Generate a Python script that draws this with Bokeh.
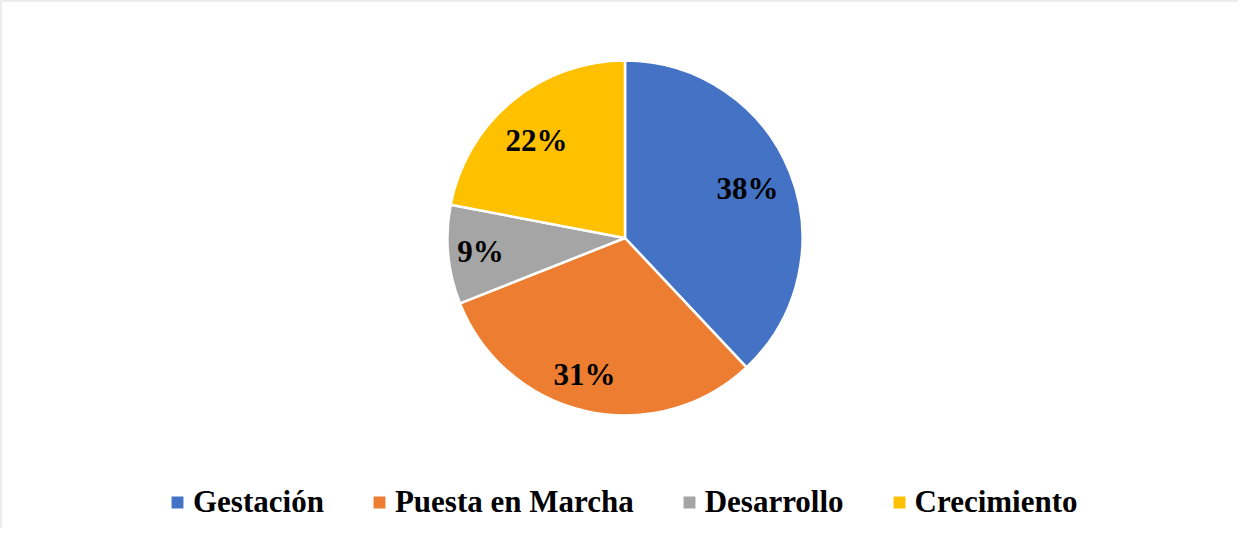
import numpy as np
from bokeh.plotting import figure
from bokeh.models import ColumnDataSource, Legend, LegendItem, Span, Range1d
from bokeh.embed import file_html
from bokeh.resources import INLINE
from bokeh.core.properties import value

# ---- data ----
categories = ["Gestación", "Puesta en Marcha", "Desarrollo", "Crecimiento"]
percentages = [38, 31, 9, 22]
colors = ["#4472C4", "#ED7D31", "#A5A5A5", "#FFC000"]

# ---- layout (label placement inside slices) ----
label_radius_frac = [0.744, 0.802, 0.818, 0.744]
label_angle_shift_deg = [0.4, -3.9, 0.1, 2.5]
W, H = 1238, 528
cx, cy, R = 624.5, 290.5, 177.5
FONT = "Liberation Serif"

vals = np.array(percentages, dtype=float)
frac = vals / vals.sum()
ends = np.pi / 2 - 2 * np.pi * np.cumsum(frac)
starts = np.concatenate([[np.pi / 2], ends[:-1]])
mids = (starts + ends) / 2 + np.deg2rad(label_angle_shift_deg)
lr = np.array(label_radius_frac) * R

src = ColumnDataSource(dict(
    cat=categories, start=starts, end=ends, color=colors,
    lx=cx + lr * np.cos(mids), ly=cy + lr * np.sin(mids),
    lab=[f"{v}%" for v in percentages],
))

p = figure(width=W, height=H, x_range=Range1d(0, W), y_range=Range1d(0, H),
           output_backend="svg", toolbar_location=None, min_border=0,
           x_axis_type=None, y_axis_type=None)
p.grid.visible = False
p.outline_line_color = None
p.background_fill_color = "white"
p.border_fill_color = "white"

r = p.wedge(x=cx, y=cy, radius=R, start_angle="start", end_angle="end",
            direction="clock", fill_color="color", line_color="white",
            line_width=2.5, source=src)

p.text(x="lx", y="ly", text="lab", source=src, text_font=value(FONT),
       text_font_style="bold", text_font_size="31px", text_align="center",
       text_baseline="middle", text_color="black")

# chart-area border (top and left visible)
p.add_layout(Span(location=0, dimension="height", line_color="#d9d9d9", line_width=2))
p.add_layout(Span(location=H, dimension="width", line_color="#d9d9d9", line_width=2))

items = [LegendItem(label=c, renderers=[r], index=i) for i, c in enumerate(categories)]
legend = Legend(items=items, orientation="horizontal", location=(168, 8),
                glyph_width=18, glyph_height=18, label_standoff=7, spacing=46,
                label_text_font=FONT, label_text_font_style="bold",
                label_text_font_size="31px", label_text_color="black",
                padding=0, margin=0, border_line_color=None,
                background_fill_alpha=0)
p.add_layout(legend)

open("out.html", "w").write(file_html(p, INLINE))
